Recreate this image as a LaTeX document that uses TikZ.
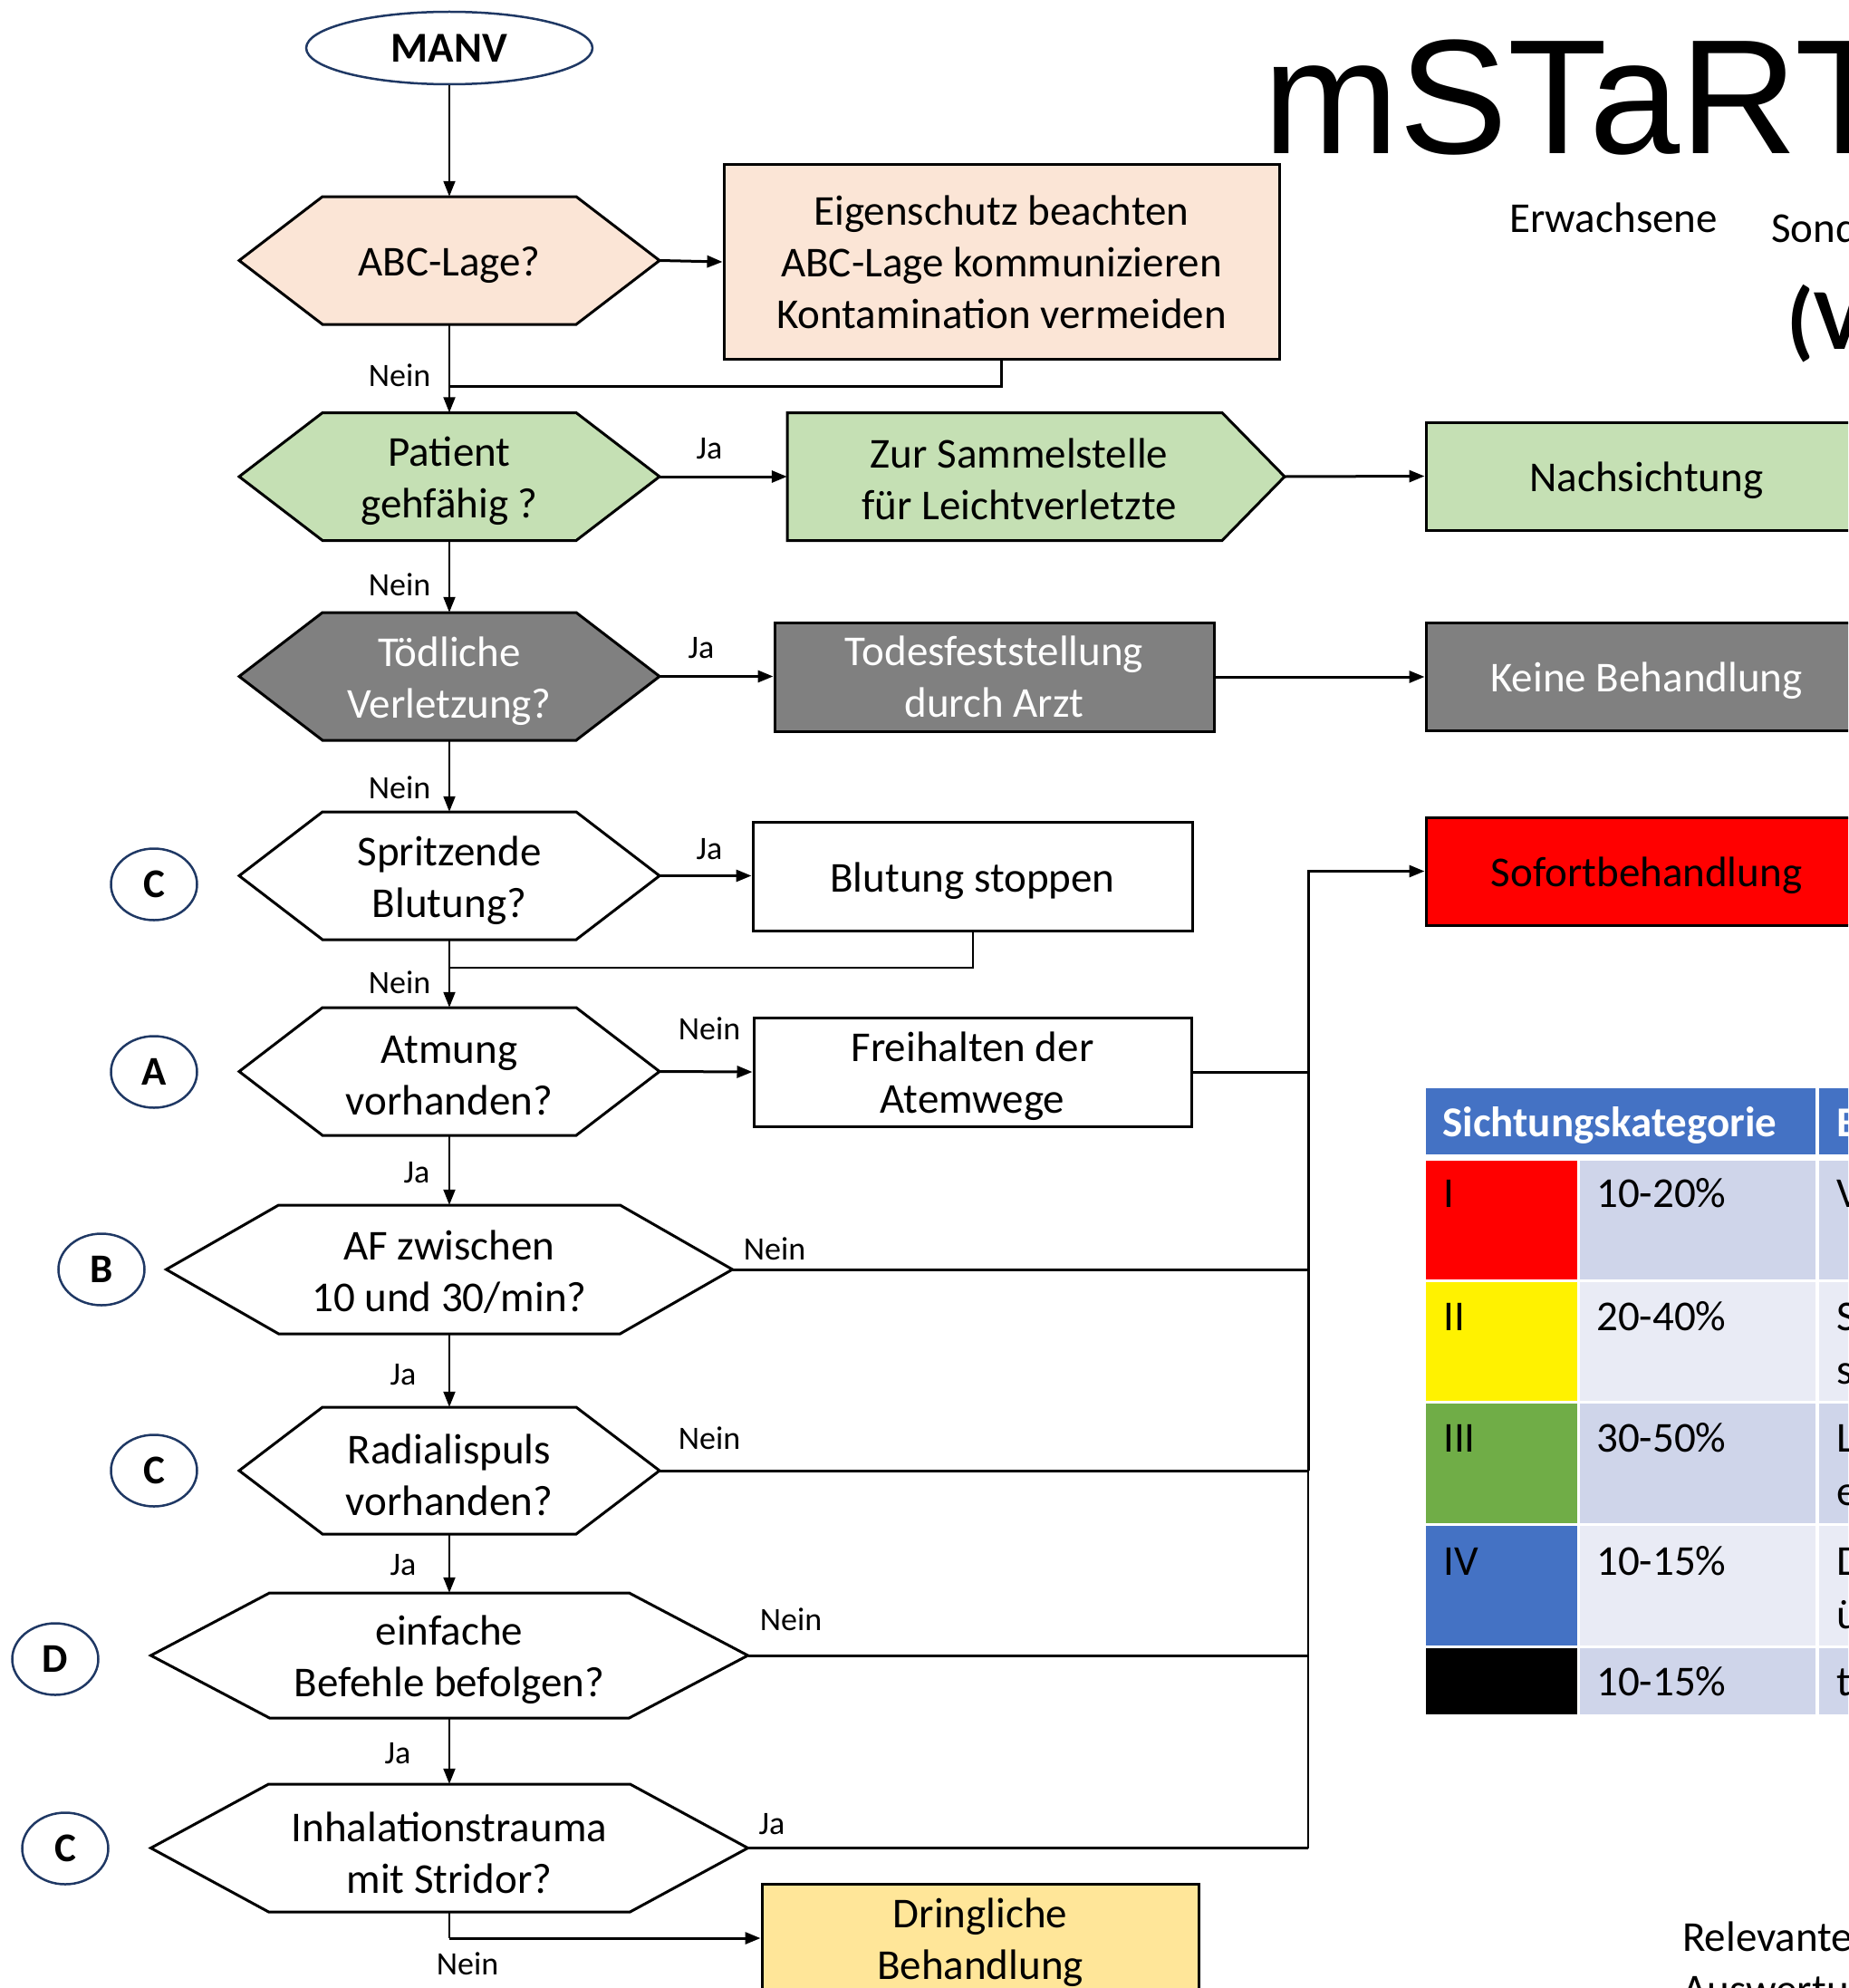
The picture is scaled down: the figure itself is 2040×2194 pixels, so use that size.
\documentclass[tikz,border=0pt]{standalone}
\usepackage{fontspec}
\setmainfont{Carlito}
\newfontfamily\titlefont{Liberation Sans}
\usetikzlibrary{arrows.meta,shapes.geometric}

\definecolor{peach}{HTML}{FBE5D6}
\definecolor{lgreen}{HTML}{C5E0B4}
\definecolor{dgray}{HTML}{808080}
\definecolor{navy}{HTML}{1F3864}
\definecolor{gold}{HTML}{FFE699}
\definecolor{tblue}{HTML}{4472C4}
\definecolor{tgreen}{HTML}{70AD47}
\definecolor{banddark}{HTML}{CFD5EA}
\definecolor{bandlight}{HTML}{E9EBF5}

% hexagon outline: centre x, centre y, half width, inset of the flat edge, half height, fill
\newcommand{\hexpath}[6]{%
  \draw[shapeline, fill=#6] (#1-#3,#2) -- (#1-#3+#4,#2-#5) -- (#1+#3-#4,#2-#5)
    -- (#1+#3,#2) -- (#1+#3-#4,#2+#5) -- (#1-#3+#4,#2+#5) -- cycle;}

\tikzset{
  shapeline/.style={line width=3pt, line join=miter},
  txt/.style={font=\fontsize{47}{57}\selectfont, align=center, inner sep=0pt},
  % text set slightly below the geometric centre of its shape
  says/.style={label={[txt, yshift=-5pt]center:{#1}}},
  sayswhite/.style={label={[txt, yshift=-5pt, text=white]center:{#1}}},
  hexa/.style 2 args={inner sep=0pt, minimum width=#1, minimum height=#2},
  boxed/.style={inner sep=0pt, draw, line width=3pt, minimum width=#1},
  boxed/.default=485pt,
  lbl/.style={font=\fontsize{36}{40}\selectfont, inner sep=0pt},
  letter/.style={draw=navy, line width=2.5pt, ellipse, minimum width=95pt,
    minimum height=79pt, inner sep=0pt, font=\fontsize{45}{45}\selectfont\bfseries},
  conn/.style={line width=2pt},
  hconn/.style={line width=3pt},
  arr/.style={conn, -{Triangle[length=17pt,width=13pt]}},
  harr/.style={hconn, -{Triangle[length=17pt,width=13pt]}},
  cell/.style={font=\fontsize{47}{57}\selectfont, inner sep=0pt, anchor=base west},
}

\begin{document}
\begin{tikzpicture}[x=1pt, y=-1pt]
\useasboundingbox (0,0) rectangle (2040,2194);
\clip (0,0) rectangle (2040,2194);

% ---------- heading ----------
\node[anchor=base west, inner sep=0pt] (title) at (1394,170)
  {\titlefont\fontsize{180}{180}\selectfont mSTaRT};
\node[cell] (adults) at (1666,256) {Erwachsene};
\node[cell] (special) at (1955,267) {Sonder};
\node[cell, font=\fontsize{96}{96}\selectfont\bfseries] (version) at (1972,385) {(V};

% ---------- start ----------
\node[draw=navy, line width=2.5pt, ellipse, minimum width=316pt, minimum height=80pt,
  inner sep=0pt, font=\fontsize{47}{47}\selectfont\bfseries] (manv) at (496,53) {MANV};

% ---------- decision hexagons ----------
\hexpath{496}{287.5}{232}{92}{70.5}{peach}
\node[hexa={464pt}{141pt}, says={ABC-Lage?}] (abc) at (496,287.5) {};

\hexpath{496}{526}{232}{92}{70.5}{lgreen}
\node[hexa={464pt}{141pt}, says={Patient\\gehfähig ?}] (walk) at (496,526) {};

\hexpath{496}{746.5}{232}{92}{70.5}{dgray}
\node[hexa={464pt}{141pt}, sayswhite={Tödliche\\Verletzung?}] (dead) at (496,746.5) {};

\hexpath{496}{966.5}{232}{92}{70.5}{white}
\node[hexa={464pt}{141pt}, says={Spritzende\\Blutung?}] (bleed) at (496,966.5) {};

\hexpath{496}{1182.5}{232}{92}{70.5}{white}
\node[hexa={464pt}{141pt}, says={Atmung\\vorhanden?}] (breath) at (496,1182.5) {};

\hexpath{496}{1401}{312.5}{124}{71}{white}
\node[hexa={625pt}{142pt}, label={[txt, yshift=-3pt]center:{AF zwischen\\10 und 30/min?}}]
  (rate) at (496,1401) {};

\hexpath{496}{1623}{232}{92}{70}{white}
\node[hexa={464pt}{140pt}, says={Radialispuls\\vorhanden?}] (pulse) at (496,1623) {};

\hexpath{496}{1827}{329.5}{131}{69}{white}
\node[hexa={659pt}{138pt}, says={einfache\\Befehle befolgen?}] (obey) at (496,1827) {};

\hexpath{496}{2039.5}{329.5}{130}{70.5}{white}
\node[hexa={659pt}{141pt}, says={Inhalationstrauma\\mit Stridor?}] (inhal) at (496,2039.5) {};

% ---------- ABCDE letters ----------
\node[letter] (lc1) at (170,976) {C};
\node[letter] (la) at (170,1183) {A};
\node[letter] (lb) at (112,1401) {B};
\node[letter] (lc2) at (170,1623) {C};
\node[letter] (ld) at (61,1831) {D};
\node[letter] (lc3) at (72,2040) {C};

% ---------- action boxes ----------
\node[boxed=613pt, fill=peach, minimum height=214pt, txt] (protect) at (1105.5,289)
  {Eigenschutz beachten\\ABC-Lage kommunizieren\\Kontamination vermeiden};

\draw[shapeline, fill=lgreen] (869,455.5) -- (1349,455.5) -- (1418,526) -- (1349,596.5)
  -- (869,596.5) -- cycle;
\node[minimum width=549pt, minimum height=141pt, inner sep=0pt] (collect) at (1143.5,526) {};
\node[txt, yshift=-3pt] (collecttxt) at (1125,526) {Zur Sammelstelle\\für Leichtverletzte};

\node[boxed, fill=dgray, minimum height=120pt,
  label={[txt, text=white]center:{Todesfeststellung\\durch Arzt}}]
  (death) at (1097.5,747) {};
\node[boxed, minimum height=120pt, says={Blutung stoppen}] (stop) at (1073.5,967) {};
\node[boxed=483pt, minimum height=120pt, says={Freihalten der\\Atemwege}] (airway) at (1073.5,1183) {};
\node[boxed=482pt, fill=gold, minimum height=120pt, says={Dringliche\\Behandlung}]
  (urgent) at (1082,2139) {};

\node[boxed=487pt, fill=lgreen, minimum height=119pt, says={Nachsichtung}]
  (recheck) at (1817.5,525.5) {};
\node[boxed=487pt, fill=dgray, minimum height=119pt, sayswhite={Keine Behandlung}]
  (none) at (1817.5,746.5) {};
\node[boxed=487pt, fill=red, minimum height=119pt, says={Sofortbehandlung}]
  (immed) at (1817.5,961.5) {};

% ---------- connectors ----------
\coordinate (bus) at (1444,961.5);
\coordinate (j1) at (496,426);
\coordinate (j2) at (496,1068);
\coordinate (j3) at (496,2139);

\draw[arr] (manv) -- (abc.north);
\draw[harr] (abc.east) -- (protect.west);
\draw[conn] (abc.south) -- (j1);
\draw[arr] (j1) -- (walk.north);
\draw[hconn] (protect.south) |- (j1);
\draw[harr] (walk.east) -- (collect.west);
\draw[harr] (collect.east) -- (recheck.west);
\draw[arr] (walk.south) -- (dead.north);
\draw[harr] (dead.east) -- (dead.east -| death.west);
\draw[harr] (death.east) -- (death.east -| none.west);
\draw[arr] (dead.south) -- (bleed.north);
\draw[harr] (bleed.east) -- (bleed.east -| stop.west);
\draw[conn] (bleed.south) -- (j2);
\draw[arr] (j2) -- (breath.north);
\draw[conn] (stop.south) |- (j2);
\draw[harr] (breath.east) -- (airway.west);
\draw[arr] (breath.south) -- (rate.north);
\draw[arr] (rate.south) -- (pulse.north);
\draw[arr] (pulse.south) -- (obey.north);
\draw[arr] (obey.south) -- (inhal.north);
\draw[hconn] (airway.east) -- (airway.east -| bus);
\draw[hconn] (rate.east) -- (rate.east -| bus);
\draw[hconn] (pulse.east) -- (pulse.east -| bus);
\draw[hconn] (obey.east) -- (obey.east -| bus);
\draw[hconn] (inhal.east) -- (inhal.east -| bus);
\draw[conn] (inhal.east -| bus) -- (pulse.east -| bus);
\draw[harr] (pulse.east -| bus) -- (bus) -- (immed.west);
\draw[conn] (inhal.south) -- (j3);
\draw[harr] (j3) -- (urgent.west);

% ---------- branch labels ----------
\node[lbl] (n1) at (441,414) {Nein};
\node[lbl] (y1) at (783,495) {Ja};
\node[lbl] (n2) at (441,645) {Nein};
\node[lbl] (y2) at (774,715) {Ja};
\node[lbl] (n3) at (441,869) {Nein};
\node[lbl] (y3) at (783,937) {Ja};
\node[lbl] (n4) at (441,1084) {Nein};
\node[lbl] (n5) at (783,1135) {Nein};
\node[lbl] (y4) at (460,1294) {Ja};
\node[lbl] (n6) at (855,1378) {Nein};
\node[lbl] (y5) at (445,1517) {Ja};
\node[lbl] (n7) at (783,1587) {Nein};
\node[lbl] (y6) at (445,1727) {Ja};
\node[lbl] (n8) at (873,1787) {Nein};
\node[lbl] (y7) at (439,1935) {Ja};
\node[lbl] (y8) at (852,2013) {Ja};
\node[lbl] (n9) at (516,2167) {Nein};

% ---------- category table ----------
\fill[tblue] (1574,1201) rectangle (2004,1274);
\fill[tblue] (2008,1201) rectangle (2060,1274);
\node[cell, text=white, font=\fontsize{47}{57}\selectfont\bfseries] (hcat) at (1592,1254) {Sichtungskategorie};
\node[cell, text=white, font=\fontsize{47}{57}\selectfont\bfseries] (hdesc) at (2027,1254) {B};

% rows: colour cell, share, description
\fill[red]       (1574,1281) rectangle (1741,1412);
\fill[banddark]  (1744,1281) rectangle (2004,1412);
\fill[banddark]  (2008,1281) rectangle (2060,1412);
\fill[yellow]    (1574,1415) rectangle (1741,1546);
\fill[bandlight] (1744,1415) rectangle (2004,1546);
\fill[bandlight] (2008,1415) rectangle (2060,1546);
\fill[tgreen]    (1574,1549) rectangle (1741,1681);
\fill[banddark]  (1744,1549) rectangle (2004,1681);
\fill[banddark]  (2008,1549) rectangle (2060,1681);
\fill[tblue]     (1574,1684) rectangle (1741,1816);
\fill[bandlight] (1744,1684) rectangle (2004,1816);
\fill[bandlight] (2008,1684) rectangle (2060,1816);
\fill[black]     (1574,1819) rectangle (1741,1892);
\fill[banddark]  (1744,1819) rectangle (2004,1892);
\fill[banddark]  (2008,1819) rectangle (2060,1892);

\node[cell] (c1) at (1593,1332) {I};
\node[cell] (p1) at (1762,1332) {10-20\%};
\node[cell] (d1) at (2027,1332) {V};
\node[cell] (c2) at (1593,1468) {II};
\node[cell] (p2) at (1762,1468) {20-40\%};
\node[cell] (d2) at (2027,1468) {S};
\node[cell] (d2b) at (2027,1527) {s};
\node[cell] (c3) at (1593,1602) {III};
\node[cell] (p3) at (1762,1602) {30-50\%};
\node[cell] (d3) at (2027,1602) {L};
\node[cell] (d3b) at (2027,1661) {e};
\node[cell] (c4) at (1593,1738) {IV};
\node[cell] (p4) at (1762,1738) {10-15\%};
\node[cell] (d4) at (2027,1738) {D};
\node[cell] (d4b) at (2027,1797) {ü};
\node[cell] (p5) at (1762,1871) {10-15\%};
\node[cell] (d5) at (2027,1871) {t};

% ---------- note ----------
\node[cell] (note1) at (1857,2153) {Relevante};
\node[cell] (note2) at (1857,2211) {Auswertung};
\end{tikzpicture}
\end{document}
